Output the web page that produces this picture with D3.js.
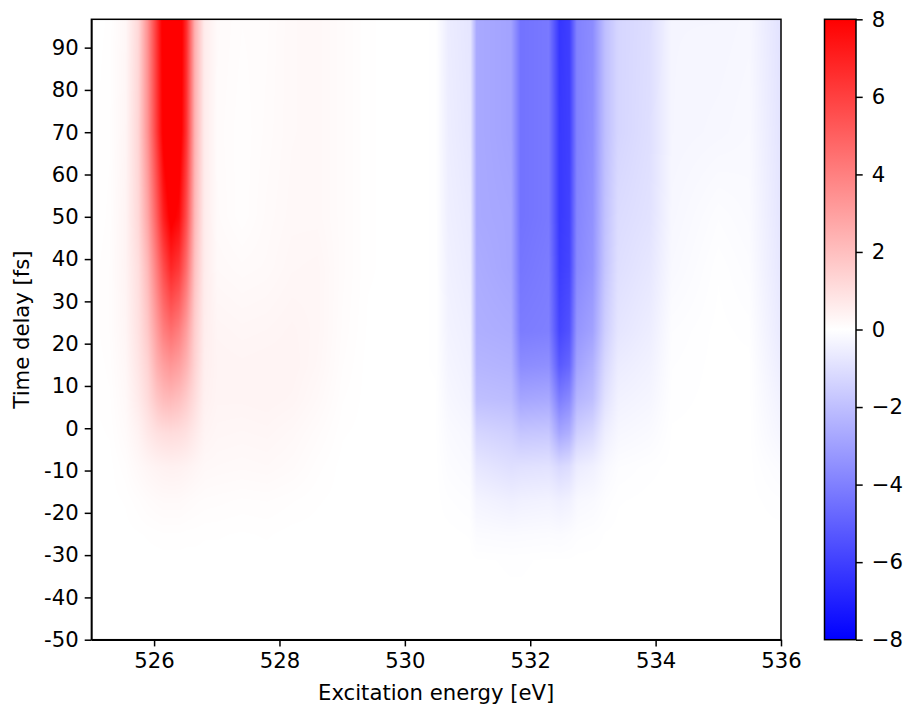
<!DOCTYPE html>
<html>
<head>
<meta charset="utf-8">
<script src="https://cdn.jsdelivr.net/npm/d3@7"></script>
<style>
  body { margin: 0; background: #fff; }
  svg { display: block; }
  text { font-family: "DejaVu Sans", sans-serif; fill: #000; }
  .axis text { font-size: 21.2px; }
  .axis path, .axis line { stroke: #000; stroke-width: 1.5px; }
  .label { font-size: 21.2px; }
</style>
</head>
<body>
<div id="chart"></div>
<script>
// excitation energy of each column [eV]
var energies = [525.0, 525.3, 525.55, 525.75, 525.9, 526.05, 526.15, 526.27, 526.4, 526.52, 526.65, 526.8, 527.0,
                527.4, 527.8, 528.2, 528.6, 529.0, 529.4, 530.0, 530.5, 530.7, 531.05, 531.15, 531.7, 531.85,
                532.3, 532.47, 532.63, 532.75, 533.0, 533.2, 533.4, 533.9, 534.25, 535.0, 535.5, 536.0];

// time delay of each row [fs]
var delays = [-50, -31, -25, -17, -9, -1, 7, 15, 23, 38, 50, 70, 97];

// signal, one row per delay
var signal = [
  [0,0,0,0,0,0,0,0,0,0,0,0,0,0,0,0,0,0,0,0,0,0,0,0,0,0,0,0,0,0,0,0,0,0,0,0,0,0],
  [0,0,0,0,0,0,0,0,0,0,0,0,0,0,0,0,0,0,0,0,0,0,0,-.01,-.02,-.02,-.01,-.01,-.01,0,0,0,0,0,0,0,0,0],
  [0,0,0,.01,.02,.03,.04,.04,.04,.03,.03,.02,.02,.01,.02,0,0,0,0,0,0,0,-.02,-.12,-.15,-.14,-.12,-.14,-.1,-.06,-.04,-.01,0,0,0,0,0,0],
  [0,0,.02,.07,.12,.16,.18,.18,.18,.15,.12,.1,.09,.07,.08,.05,.02,0,0,0,0,-.04,-.08,-.35,-.5,-.45,-.4,-.5,-.42,-.22,-.17,-.07,-.02,0,0,0,0,-.04],
  [0,0,.07,.2,.3,.38,.42,.45,.43,.38,.3,.22,.2,.18,.2,.15,.06,0,0,0,0,-.1,-.17,-.75,-1,-.95,-.9,-1.2,-1.05,-.6,-.45,-.2,-.08,-.03,0,0,0,-.13],
  [0,.02,.14,.38,.7,.95,1.05,1.1,1.05,.92,.65,.35,.28,.26,.28,.22,.12,.02,0,0,-.01,-.16,-.25,-1.3,-1.5,-1.8,-1.75,-2.8,-2.5,-1.5,-1.2,-.5,-.25,-.16,-.01,0,0,-.3],
  [.01,.04,.2,.62,1.1,1.8,2.1,2.2,2,1.6,1.05,.45,.34,.34,.36,.32,.2,.05,0,0,-.01,-.25,-.38,-2,-2.1,-2.8,-2.7,-4.1,-3.7,-2.3,-2,-.9,-.42,-.3,-.03,0,0,-.42],
  [.01,.06,.25,.78,1.35,2.5,3,3.3,3,2.35,1.35,.5,.36,.34,.36,.36,.26,.08,0,0,-.02,-.32,-.45,-2.3,-2.4,-3.6,-3.5,-5.2,-4.8,-2.9,-2.4,-1.2,-.6,-.42,-.05,0,0,-.55],
  [.02,.08,.3,.9,1.7,3.1,4,4.5,4,3,1.5,.55,.32,.28,.3,.34,.28,.1,.01,0,-.02,-.38,-.5,-2.5,-2.6,-4.1,-4,-5.8,-5.4,-3.3,-2.9,-1.5,-.8,-.55,-.08,0,-.03,-.65],
  [.02,.08,.35,1,2.2,4.2,5.6,6.8,6.2,4.5,1.9,.6,.2,.15,.18,.26,.28,.12,.02,0,-.02,-.45,-.6,-2.6,-2.8,-4.3,-4.1,-6.1,-5.8,-3.7,-3.3,-1.8,-1,-.75,-.2,-.02,-.1,-.75],
  [0,.06,.35,1.2,2.8,5.2,7,8.3,7.7,5.5,2.2,.6,.15,.05,.15,.22,.22,.12,.02,0,-.02,-.5,-.65,-2.7,-2.8,-4.4,-4.2,-6.2,-5.9,-3.8,-3.4,-1.9,-1.1,-.9,-.25,-.08,-.15,-.8],
  [0,.04,.3,1.3,3.4,6.3,8.3,9.3,8.8,6.3,2.4,.6,.13,.05,.12,.2,.22,.12,.02,0,-.02,-.55,-.75,-2.7,-2.9,-4.4,-4.2,-6.2,-6,-3.9,-3.5,-2,-1.3,-1,-.3,-.25,-.2,-.85],
  [0,.02,.25,1.2,3.5,6.5,8.5,9.5,9,6.5,2.5,.6,.15,.08,.1,.2,.22,.12,.02,0,-.02,-.6,-.8,-2.7,-2.9,-4.4,-4.2,-6.3,-6,-3.9,-3.6,-2,-1.3,-1.05,-.3,-.3,-.25,-.9]
];

var xTicks = [526, 528, 530, 532, 534, 536];
var yTicks = [-50, -40, -30, -20, -10, 0, 10, 20, 30, 40, 50, 60, 70, 80, 90];
var barTicks = [-8, -6, -4, -2, 0, 2, 4, 6, 8];

var margin = {top: 19.3, right: 126, bottom: 69.3, left: 91.4},
    width = 907 - margin.left - margin.right,
    height = 709 - margin.top - margin.bottom;

var svg = d3.select("#chart").append("svg")
    .attr("width", 907)
    .attr("height", 709);

var g = svg.append("g")
    .attr("transform", "translate(" + margin.left + "," + margin.top + ")");

var x = d3.scaleLinear().domain([525, 536]).range([0, width]);
var y = d3.scaleLinear().domain([-50, 96.7]).range([height, 0]);

// same as matplotlib bwr
var color = d3.scaleLinear()
    .domain([-8, 0, 8])
    .range(["#0000ff", "#ffffff", "#ff0000"])
    .clamp(true);

// one piecewise scale per row, so a pixel is shaded between the table's cells
var rowScales = signal.map(function(row) {
  return d3.scaleLinear().domain(energies).range(row);
});

function drawField() {
  var w = Math.round(width), h = Math.round(height);
  var canvas = document.createElement("canvas");
  canvas.width = w;
  canvas.height = h;
  var ctx = canvas.getContext("2d");

  for (var i = 0; i < w; i++) {
    var energy = x.invert(i + 0.5);
    var column = d3.scaleLinear().domain(delays).range(rowScales.map(function(s) { return s(energy); }));
    for (var j = 0; j < h; j++) {
      ctx.fillStyle = color(column(y.invert(j + 0.5)));
      ctx.fillRect(i, j, 1, 1);
    }
  }

  g.append("image")
      .attr("width", width)
      .attr("height", height)
      .attr("preserveAspectRatio", "none")
      .attr("href", canvas.toDataURL());
}

drawField();

g.append("g")
    .attr("class", "x axis")
    .attr("transform", "translate(0," + height + ")")
    .call(d3.axisBottom(x).tickValues(xTicks).tickSizeInner(6.7).tickSizeOuter(0).tickPadding(7).tickFormat(d3.format("d")));

g.append("g")
    .attr("class", "y axis")
    .call(d3.axisLeft(y).tickValues(yTicks).tickSizeInner(6.7).tickSizeOuter(0).tickPadding(6).tickFormat(function(d) { return String(d); }));

// frame
g.append("rect")
    .attr("width", width)
    .attr("height", height)
    .attr("fill", "none")
    .attr("stroke", "#000")
    .attr("stroke-width", 1.5);

svg.append("text")
    .attr("class", "label")
    .attr("x", margin.left + width / 2)
    .attr("y", 700)
    .attr("text-anchor", "middle")
    .text("Excitation energy [eV]");

svg.append("text")
    .attr("class", "label")
    .attr("transform", "translate(29," + (margin.top + height / 2) + ") rotate(-90)")
    .attr("text-anchor", "middle")
    .text("Time delay [fs]");

// colorbar
var barX = 824.5, barW = 31.5;
var bar = d3.scaleLinear().domain([-8, 8]).range([height, 0]);

var grad = svg.append("defs").append("linearGradient")
    .attr("id", "bwr")
    .attr("x1", 0).attr("y1", 1).attr("x2", 0).attr("y2", 0);

grad.selectAll("stop")
    .data(barTicks)
  .enter().append("stop")
    .attr("offset", function(d) { return (d + 8) / 16; })
    .attr("stop-color", function(d) { return color(d); });

var cb = svg.append("g")
    .attr("transform", "translate(" + barX + "," + margin.top + ")");

cb.append("rect")
    .attr("width", barW)
    .attr("height", height)
    .attr("fill", "url(#bwr)")
    .attr("stroke", "#000")
    .attr("stroke-width", 1.5);

cb.append("g")
    .attr("class", "axis")
    .attr("transform", "translate(" + barW + ",0)")
    .call(d3.axisRight(bar).tickValues(barTicks).tickSize(6.7).tickPadding(9).tickFormat(d3.format("d")))
    .select(".domain").remove();
</script>
</body>
</html>
